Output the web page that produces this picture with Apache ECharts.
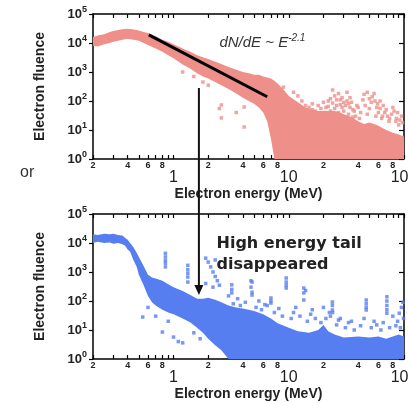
<!DOCTYPE html>
<html lang="en">
<head>
<meta charset="UTF-8">
<title>Electron fluence</title>
<script src="https://cdn.jsdelivr.net/npm/echarts@6.0.0/dist/echarts.min.js"></script>
<style>
    html, body { margin: 0; padding: 0; background: #fff; }
    #chart { width: 408px; height: 403px; }
</style>
</head>
<body>
<div id="chart"></div>
<script>
    // axis ticks / labels
    var xTickValues = [0.2, 0.3, 0.4, 0.5, 0.6, 0.7, 0.8, 0.9, 1, 2, 3, 4, 5, 6, 7, 8, 9, 10, 20, 30, 40, 50, 60, 70, 80, 90, 100];
    var xLabelValues = [0.2, 0.4, 0.6, 0.8, 1, 2, 4, 6, 8, 10, 20, 40, 60, 80, 100];

    // upper panel: dense core of the pink cloud (energy, low edge, high edge)
    var topBandX  = [0.2, 0.22, 0.25, 0.28, 0.3, 0.33, 0.36, 0.4, 0.45, 0.5, 0.55, 0.6, 0.7, 0.8, 0.9, 1.0, 1.2, 1.4, 1.6, 1.8, 2.0, 2.5, 3.0, 3.5, 4.0, 4.5, 5.0, 5.5, 6.0, 6.5, 7.0, 7.5, 8, 9, 10, 12, 14, 16, 18, 20, 22, 25, 28, 30, 35, 40, 45, 50, 55, 60, 70, 80, 90, 100];
    var topBandLo = [8000, 7500, 9000, 10000, 11000, 12000, 13000, 14000, 13000, 12000, 10000, 8500, 6500, 5000, 3800, 3000, 1800, 1300, 900, 700, 600, 380, 260, 180, 130, 100, 80, 60, 40, 20, 5, 1, 1, 1, 1, 1, 1, 1, 1, 1, 1, 1, 1, 1, 1, 1, 1, 1, 1, 1, 1, 1, 1, 1];
    var topBandHi = [16000, 18000, 20000, 24000, 26000, 28000, 30000, 31000, 29000, 27000, 24000, 22000, 17000, 13000, 11000, 9000, 6500, 5000, 3800, 3200, 2800, 2000, 1500, 1200, 1000, 900, 800, 800, 700, 650, 600, 500, 400, 250, 150, 90, 60, 50, 45, 45, 45, 45, 40, 35, 28, 20, 16, 18, 16, 14, 10, 8, 7, 6];
    // upper panel: scattered points
    var topDots = [[2.6, 73], [2.6, 26], [2.5, 55], [4.1, 62], [4.1, 12.7], [3.5, 40], [1.2, 1000], [1.5, 700], [1.8, 450], [2.0, 350],
        [24, 240], [25, 150], [27, 180], [28, 110], [30, 90], [26, 70], [29, 60], [32, 200], [34, 130], [33, 80], [36, 50], [22, 100],
        [21, 60], [23, 45], [38, 30], [40, 60], [45, 170], [48, 200], [50, 120], [52, 90], [55, 180], [58, 60], [60, 40], [62, 100],
        [65, 30], [70, 50], [75, 25], [80, 60], [85, 20], [90, 15], [95, 30], [18, 35], [16, 50], [14, 70], [13, 100], [12, 150],
        [11, 200], [9, 300], [8.5, 250],
        [15, 60], [16, 80], [17, 45], [18, 70], [19, 55], [20, 90], [21, 40], [22, 65], [23, 120], [24, 85], [25, 55], [26, 110],
        [27, 40], [28, 75], [29, 130], [30, 45], [31, 70], [32, 100], [33, 35], [34, 60], [35, 90], [36, 28], [37, 45], [39, 70],
        [41, 25], [42, 40], [44, 110], [46, 70], [48, 35], [50, 55], [53, 140], [56, 100], [57, 30], [59, 80], [62, 55], [64, 25],
        [66, 70], [68, 40], [72, 30], [74, 20], [78, 35], [82, 45], [86, 25], [88, 40], [92, 22], [97, 18]];
    // power-law fit
    var fitLine = [[0.61, 19000], [6.5, 140]];

    // lower panel: dense core of the blue cloud
    var botBandX  = [0.2, 0.22, 0.25, 0.28, 0.3, 0.33, 0.36, 0.38, 0.4, 0.42, 0.45, 0.48, 0.5, 0.55, 0.6, 0.65, 0.7, 0.8, 0.9, 1.0, 1.2, 1.4, 1.6, 1.8, 2.0, 2.3, 2.6, 3.0, 3.5, 4, 5, 6, 7, 8, 10, 12, 15, 18, 20, 22, 25, 30, 40, 50, 60, 70, 80, 90, 100];
    var botBandLo = [10000, 11000, 10000, 10500, 9500, 10000, 9000, 8000, 6000, 5000, 2500, 1500, 800, 350, 150, 90, 70, 50, 40, 35, 25, 18, 12, 8, 5, 3, 2, 1, 1, 1, 1, 1, 1, 1, 1, 1, 1, 1, 1, 1, 1, 1, 1, 1, 1, 1, 1, 1, 1];
    var botBandHi = [20000, 19000, 21000, 20000, 21000, 19000, 18000, 15000, 13000, 10000, 7000, 4500, 3300, 1600, 800, 650, 600, 500, 380, 300, 220, 160, 120, 120, 130, 110, 90, 70, 60, 55, 45, 35, 25, 17, 12, 9, 8, 10, 15, 9, 7, 5.5, 6, 5.5, 6, 5, 6, 7, 6];
    // lower panel: scattered points
    var botDots = [[0.85, 4400], [0.85, 3300], [0.85, 2500], [0.85, 2000], [0.85, 1500], [1.33, 1700], [1.33, 1200], [1.33, 900], [1.33, 670],
        [1.33, 450], [1.9, 3000], [2.0, 2200], [2.1, 1500], [2.2, 1000], [2.3, 2600], [2.3, 700], [2.4, 500], [2.5, 350], [2.2, 300],
        [1.9, 400], [3.2, 360], [3.2, 250], [3.2, 190], [3.0, 150], [3.6, 120], [4.7, 500], [4.8, 450], [4.7, 300], [4.8, 160],
        [4.8, 200], [5.5, 100], [7.0, 127], [7.0, 85], [7.0, 100], [6.5, 70], [9.5, 620], [9.5, 450], [9.5, 280], [9.5, 350],
        [11, 40], [13.5, 280], [13.5, 190], [13.5, 108], [14, 230], [16, 50], [20, 60], [23.9, 92], [23.9, 70], [23.9, 49],
        [24, 40], [23, 30], [28, 25], [35, 20], [47, 108], [47, 80], [47, 60], [47, 49], [55, 20], [71, 140], [71, 100], [71, 70],
        [71, 50], [71, 38], [80, 30], [91, 38], [95, 60], [98, 90], [0.54, 28], [0.8, 8.5], [1.0, 5.7], [1.1, 4], [1.2, 3.6],
        [0.7, 30], [0.9, 20], [1.5, 8], [1.7, 5], [0.6, 60],
        [3.3, 80], [3.8, 70], [4.2, 90], [5.2, 60], [5.8, 50], [6.2, 75], [7.5, 40], [8.2, 55], [8.8, 30], [10.5, 25], [11.5, 60],
        [12.5, 30], [14.5, 20], [15.5, 35], [17, 25], [19, 18], [21, 25], [22.5, 40], [26, 15], [27, 22], [31, 12], [33, 18],
        [37, 10], [42, 14], [45, 25], [52, 12], [58, 15], [63, 10], [66, 18], [75, 12], [85, 14], [88, 20], [93, 12], [99, 25]];

    var pink = '#ee8f89';
    var blue = '#567ef0';
    var font = 'Liberation Sans, Arial, sans-serif';

    var chart = echarts.init(document.getElementById('chart'));

    function isDecade(v) {
        var l = Math.log10(v);
        return Math.abs(l - Math.round(l)) < 1e-6;
    }

    function xAxes(grid) {
        return [{
            type: 'log', gridIndex: grid, min: 0.2, max: 100, position: 'bottom',
            name: 'Electron energy (MeV)', nameLocation: 'middle', nameGap: 28,
            nameTextStyle: { fontFamily: font, fontSize: 14, fontWeight: 'bold', color: '#222' },
            axisLine: { lineStyle: { color: '#000', width: 1.5 } },
            axisTick: { inside: true, length: 4, customValues: xTickValues, lineStyle: { color: '#000', width: 1.2 } },
            splitLine: { show: false },
            axisLabel: {
                customValues: xLabelValues, margin: 2, showMinLabel: true, showMaxLabel: true,
                formatter: function (v) {
                    v = +v;
                    if (isDecade(v)) return '{d|' + Math.round(v) + '}';
                    var p = Math.pow(10, Math.floor(Math.log10(v) + 1e-9));
                    return '{m|' + Math.round(v / p) + '}';
                },
                rich: {
                    m: { fontFamily: font, fontSize: 9, fontWeight: 'bold', color: '#222' },
                    d: { fontFamily: font, fontSize: 16, color: '#222', padding: [9, 0, 0, 0] }
                }
            }
        }, {
            type: 'log', gridIndex: grid, min: 0.2, max: 100, position: 'top',
            axisLine: { lineStyle: { color: '#000', width: 1.5 } },
            axisTick: { inside: true, length: 4, customValues: xTickValues, lineStyle: { color: '#000', width: 1.2 } },
            axisLabel: { show: false },
            splitLine: { show: false }
        }];
    }

    function yAxes(grid) {
        return [{
            type: 'log', gridIndex: grid, min: 1, max: 100000, position: 'left',
            name: 'Electron fluence', nameLocation: 'middle', nameGap: 46,
            nameTextStyle: { fontFamily: font, fontSize: 14, fontWeight: 'bold', color: '#222' },
            axisLine: { lineStyle: { color: '#000', width: 1.5 } },
            axisTick: { length: 4, lineStyle: { color: '#000', width: 1.2 } },
            splitLine: { show: false },
            axisLabel: {
                margin: 6,
                formatter: function (v) {
                    return '{b|10}{s|' + Math.round(Math.log10(v)) + '}';
                },
                rich: {
                    b: { fontFamily: font, fontSize: 13, fontWeight: 'bold', color: '#222' },
                    s: { fontFamily: font, fontSize: 9, fontWeight: 'bold', color: '#222', padding: [0, 0, 8, 0] }
                }
            }
        }, {
            type: 'log', gridIndex: grid, min: 1, max: 100000, position: 'right',
            axisLine: { lineStyle: { color: '#000', width: 1.5 } },
            axisTick: { inside: true, length: 5, lineStyle: { color: '#000', width: 1.2 } },
            axisLabel: { show: false },
            splitLine: { show: false }
        }];
    }

    function bandSeries(xi, yi, xs, lo, hi, color) {
        var data = xs.map(function (x, i) { return [x, lo[i], hi[i]]; });
        return {
            type: 'custom', xAxisIndex: xi, yAxisIndex: yi, silent: true, z: 1,
            data: data,
            encode: { x: 0, y: [1, 2] },
            renderItem: function (params, api) {
                if (params.dataIndex !== 0) return;
                var pts = [];
                for (var i = 0; i < xs.length; i++) pts.push(api.coord([xs[i], hi[i]]));
                for (var j = xs.length - 1; j >= 0; j--) pts.push(api.coord([xs[j], lo[j]]));
                return { type: 'polygon', shape: { points: pts }, style: { fill: color } };
            }
        };
    }

    chart.setOption({
        animation: false,
        title: { text: 'or', left: 15, top: 160, textStyle: { fontFamily: font, fontSize: 16, fontWeight: 'normal', color: '#333' } },
        grid: [
            { left: 93, right: 4, top: 14, height: 145, outerBoundsMode: 'none' },
            { left: 93, right: 4, top: 214, height: 145, outerBoundsMode: 'none' }
        ],
        xAxis: xAxes(0).concat(xAxes(1)),
        yAxis: yAxes(0).concat(yAxes(1)),
        series: [
            bandSeries(0, 0, topBandX, topBandLo, topBandHi, pink),
            {
                type: 'scatter', xAxisIndex: 0, yAxisIndex: 0, data: topDots, symbol: 'rect', symbolSize: 3.5,
                itemStyle: { color: pink }, silent: true, z: 2
            },
            {
                type: 'line', xAxisIndex: 0, yAxisIndex: 0, data: fitLine, showSymbol: false,
                lineStyle: { color: '#000', width: 3 }, silent: true, z: 3
            },
            bandSeries(2, 2, botBandX, botBandLo, botBandHi, blue),
            {
                type: 'scatter', xAxisIndex: 2, yAxisIndex: 2, data: botDots, symbol: 'rect', symbolSize: 3.5,
                itemStyle: { color: blue }, silent: true, z: 2
            }
        ]
    });

    // annotations placed through the axes' own scales
    var arrowTop = chart.convertToPixel({ xAxisIndex: 0, yAxisIndex: 0 }, [1.66, 280]);
    var arrowTip = chart.convertToPixel({ xAxisIndex: 2, yAxisIndex: 2 }, [1.66, 160]);
    var fitText = chart.convertToPixel({ xAxisIndex: 0, yAxisIndex: 0 }, [2.5, 10000]);
    var tailText = chart.convertToPixel({ xAxisIndex: 2, yAxisIndex: 2 }, [2.36, 4000]);

    chart.setOption({
        graphic: [
            {
                type: 'line', z: 100,
                shape: { x1: arrowTop[0], y1: arrowTop[1], x2: arrowTip[0], y2: arrowTip[1] - 8 },
                style: { stroke: '#111', lineWidth: 2 }
            },
            {
                type: 'polygon', z: 100,
                shape: { points: [[arrowTip[0] - 4.5, arrowTip[1] - 10], [arrowTip[0] + 4.5, arrowTip[1] - 10], [arrowTip[0], arrowTip[1]]] },
                style: { fill: '#111' }
            },
            {
                type: 'text', z: 100, x: fitText[0], y: fitText[1],
                style: {
                    text: '{a|dN/dE ~ E}{s|-2.1}', verticalAlign: 'middle',
                    rich: {
                        a: { fontFamily: font, fontSize: 15, fontStyle: 'italic', fill: '#333' },
                        s: { fontFamily: font, fontSize: 10, fontStyle: 'italic', fill: '#333', padding: [0, 0, 9, 0] }
                    }
                }
            },
            {
                type: 'text', z: 100, x: tailText[0], y: tailText[1],
                style: {
                    text: 'High energy tail\ndisappeared', verticalAlign: 'middle',
                    fontFamily: 'DejaVu Sans, sans-serif', fontSize: 16, fontWeight: 'bold', fill: '#222', lineHeight: 21
                }
            }
        ]
    });
</script>
</body>
</html>
